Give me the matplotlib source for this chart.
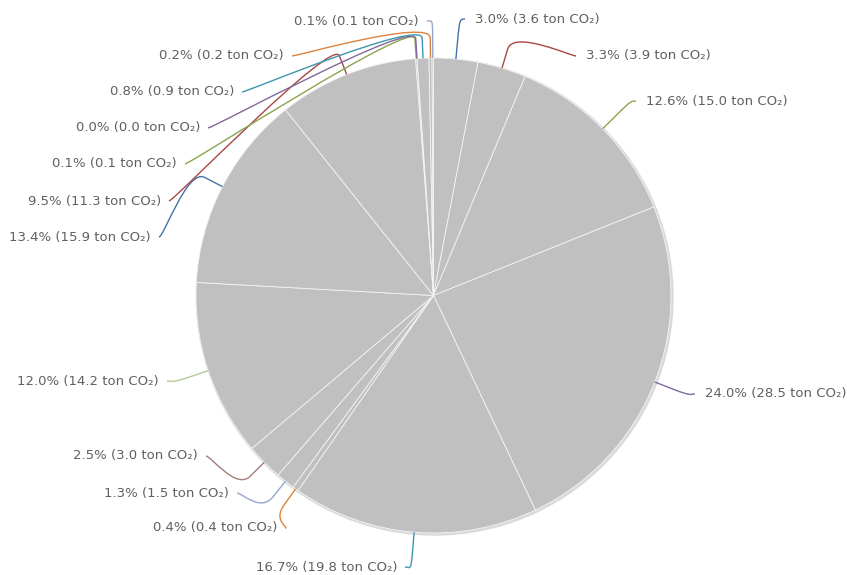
import numpy as np
import matplotlib.pyplot as plt
from matplotlib.path import Path
from matplotlib.patches import PathPatch, Circle

# slices clockwise from 12 o'clock
pct = [3.0, 3.3, 12.6, 24.0, 16.7, 0.4, 1.3, 2.5, 12.0, 13.4, 9.5, 0.1, 0.0, 0.8, 0.2, 0.1]
tons = [3.6, 3.9, 15.0, 28.5, 19.8, 0.4, 1.5, 3.0, 14.2, 15.9, 11.3, 0.1, 0.0, 0.9, 0.2, 0.1]

palette = ['#4572A7', '#AA4643', '#89A54E', '#80699B', '#3D96AE',
           '#DB843D', '#92A8CD', '#A47D7C', '#B5CA92']

# layout: where each connector meets its label (pixels in the 847x575 image)
label_px = [(465, 19), (576, 56), (636, 101), (695, 394), (405, 567),
            (285, 528), (237, 493), (206, 456), (167, 381), (159, 237),
            (169, 201), (185, 164), (208, 128), (242, 92), (292, 56), (427, 21)]

W, H = 847, 575
cx, cy, R = 433.5, 295.5, 237.5

fig = plt.figure(figsize=(W / 100, H / 100), dpi=100)
ax = fig.add_axes([0, 0, 1, 1])

# soft shadow behind the pie
ax.add_patch(Circle((1.2 / R, -1.2 / R), 1 + 1.5 / R, facecolor='#dadada',
                    edgecolor='none', zorder=0))

ax.pie(pct, startangle=90, counterclock=False, colors=['#C0C0C0'] * len(pct),
       wedgeprops=dict(edgecolor='#f4f4f4', linewidth=0.6), radius=1, center=(0, 0))

total = sum(pct)
cum = np.cumsum([0] + pct[:-1])
px = 1.0 / R
for i, (p, t) in enumerate(zip(pct, tons)):
    mid = 360 * (cum[i] + p / 2) / total
    a = np.radians(90 - mid)
    edge = np.array([np.cos(a), np.sin(a)])
    elbow = edge * (1 + 20 * px)
    lx, ly = label_px[i]
    s = np.array([(lx - cx) * px, (cy - ly) * px])
    right = mid < 180
    c1 = s + np.array([(-5 if right else 5) * px, 0])
    c2 = 2 * elbow - edge
    path = Path([s, c1, c2, elbow, edge],
                [Path.MOVETO, Path.CURVE4, Path.CURVE4, Path.CURVE4, Path.LINETO])
    col = palette[i % len(palette)]
    ax.add_patch(PathPatch(path, facecolor='none', edgecolor=col, lw=1.0, zorder=3))
    txt = '%.1f%% (%.1f ton CO₂)' % (p, t)
    if right:
        ax.text(s[0] + 10 * px, s[1], txt, ha='left', va='center',
                fontsize=9.5, color='#606060')
    else:
        ax.text(s[0] - 8 * px, s[1], txt, ha='right', va='center',
                fontsize=9.5, color='#606060')

ax.set_xlim(-cx / R, (W - cx) / R)
ax.set_ylim(-(H - cy) / R, cy / R)
ax.set_aspect('auto')
ax.axis('off')

fig.savefig('out.png', dpi=100)
